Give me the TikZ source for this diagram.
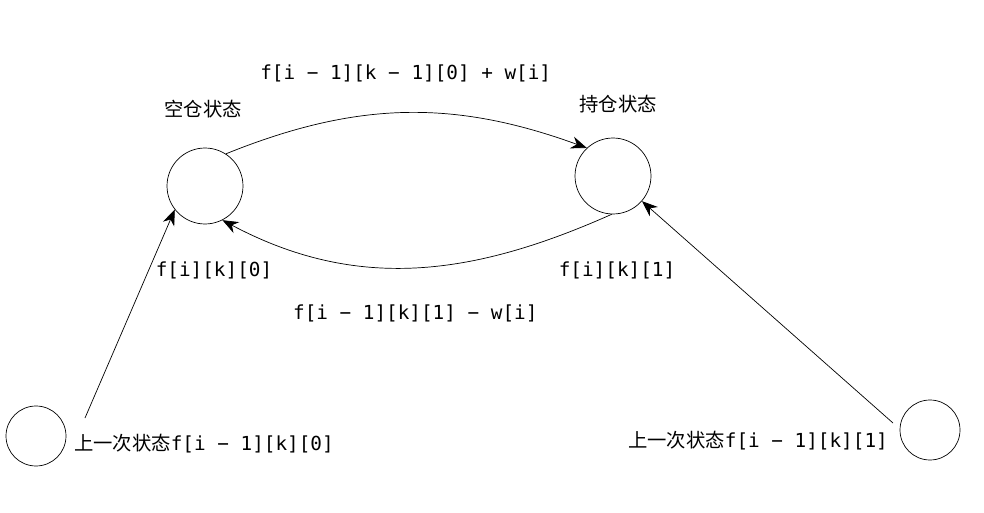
\documentclass[tikz,border=0pt]{standalone}
\usepackage{fontspec}
\setmainfont{Noto Sans CJK SC}
\setmonofont{DejaVu Sans Mono}
\usetikzlibrary{arrows.meta,positioning}

\begin{document}
\begin{tikzpicture}[
  x=0.02cm, y=-0.02cm,
  state/.style={circle, draw, minimum size=1.52cm, inner sep=0pt},
  prev/.style={circle, draw, minimum size=1.2cm, inner sep=0pt},
  lbl/.style={font=\fontsize{11}{13}\selectfont},
  code/.style={font=\fontsize{11}{13}\selectfont\ttfamily},
  >={Stealth[length=9pt, width=7pt]}
]
  \useasboundingbox (0,0) rectangle (984,513);
  % states
  \node[state] (empty) at (205,186) {};
  \node[state] (hold) at (613,176) {};
  \node[prev] (pempty) at (36,436) {};
  \node[prev] (phold) at (930,430) {};
  \node[lbl] (emptyname) at (203,109) {空仓状态};
  \node[lbl] (holdname) at (618,104) {持仓状态};

  % transitions between states
  \draw[->] (empty.57) to[out=22, in=160] node[code, above=14pt] {f[i − 1][k − 1][0] + w[i]} (hold.133);
  \draw[->] (hold.268) to[out=204, in=-28] node[code, below=18pt] {f[i − 1][k][1] − w[i]} (empty.-63);
  \node[code] (fempty) at (214,270) {f[i][k][0]};
  \node[code] (fhold) at (617,270) {f[i][k][1]};

  % from previous states
  \node[lbl, anchor=west] (pemptyname) at (68,444) {上一次状态\texttt{f[i − 1][k][0]}};
  \node[lbl, anchor=east] (pholdname) at (894,441) {上一次状态\texttt{f[i − 1][k][1]}};
  \coordinate (a) at (85,418);
  \coordinate (b) at (893,423);
  \draw[->] (a) -- (empty.218);
  \draw[->] (b) -- (hold.-41);
\end{tikzpicture}
\end{document}
